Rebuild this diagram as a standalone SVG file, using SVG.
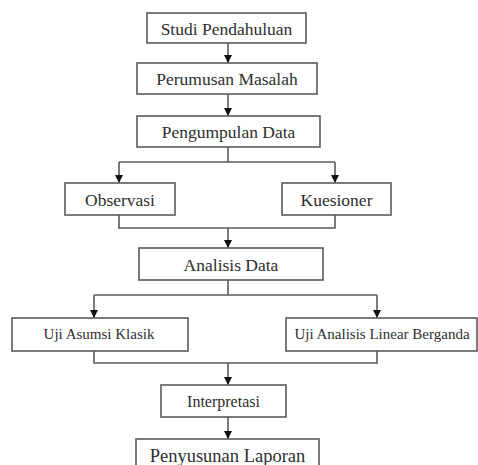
<svg xmlns="http://www.w3.org/2000/svg" width="478" height="465" viewBox="0 0 478 465">
<style>
.box{fill:#fff;stroke:#5a5a5a;stroke-width:1.6}
.lbl{font-family:"Liberation Serif","Times New Roman",serif;fill:#2e2e2e;text-anchor:middle;dominant-baseline:central}
.ln{fill:none;stroke:#5a5a5a;stroke-width:1.6}
</style>
<defs>
<marker id="ah" viewBox="0 0 8 8" refX="8" refY="4" markerWidth="8" markerHeight="8" markerUnits="userSpaceOnUse" orient="auto">
<path d="M0,0 L8,4 L0,8 Z" fill="#111"/>
</marker>
</defs>
<rect width="478" height="465" fill="#fff"/>
<g id="connectors">
<line class="ln" x1="228" y1="43" x2="228" y2="63" marker-end="url(#ah)"/>
<line class="ln" x1="228" y1="94" x2="228" y2="116" marker-end="url(#ah)"/>
<polyline class="ln" points="228,147 228,162"/>
<polyline class="ln" points="119,162 335,162"/>
<line class="ln" x1="119" y1="162" x2="119" y2="183" marker-end="url(#ah)"/>
<line class="ln" x1="335" y1="162" x2="335" y2="183" marker-end="url(#ah)"/>
<polyline class="ln" points="119,215 119,228 335,228 335,215"/>
<line class="ln" x1="228" y1="228" x2="228" y2="248" marker-end="url(#ah)"/>
<polyline class="ln" points="228,280 228,295"/>
<polyline class="ln" points="94,295 377,295"/>
<line class="ln" x1="94" y1="295" x2="94" y2="318" marker-end="url(#ah)"/>
<line class="ln" x1="377" y1="295" x2="377" y2="318" marker-end="url(#ah)"/>
<polyline class="ln" points="94,351 94,363 377,363 377,351"/>
<line class="ln" x1="228" y1="363" x2="228" y2="385" marker-end="url(#ah)"/>
<line class="ln" x1="228" y1="417" x2="228" y2="439" marker-end="url(#ah)"/>
</g>
<g id="studi">
<rect class="box" x="147" y="13" width="159" height="30"/>
<text class="lbl" x="226.5" y="28.5" font-size="17.5">Studi Pendahuluan</text>
</g>
<g id="perumusan">
<rect class="box" x="137" y="63" width="180" height="31"/>
<text class="lbl" x="227" y="79" font-size="17.5">Perumusan Masalah</text>
</g>
<g id="pengumpulan">
<rect class="box" x="137" y="116" width="183" height="31"/>
<text class="lbl" x="228.5" y="132" font-size="17.5">Pengumpulan Data</text>
</g>
<g id="observasi">
<rect class="box" x="65" y="183" width="110" height="32"/>
<text class="lbl" x="120" y="199.5" font-size="17.5">Observasi</text>
</g>
<g id="kuesioner">
<rect class="box" x="282" y="183" width="109" height="32"/>
<text class="lbl" x="336.5" y="199.5" font-size="17.5">Kuesioner</text>
</g>
<g id="analisis">
<rect class="box" x="139" y="248" width="184" height="32"/>
<text class="lbl" x="231" y="264.5" font-size="17.5">Analisis Data</text>
</g>
<g id="asumsi">
<rect class="box" x="12" y="318" width="176" height="33"/>
<text class="lbl" x="99" y="333.5" font-size="15">Uji Asumsi Klasik</text>
</g>
<g id="linear">
<rect class="box" x="286" y="318" width="191" height="33"/>
<text class="lbl" x="382" y="333.5" font-size="15">Uji Analisis Linear Berganda</text>
</g>
<g id="interpretasi">
<rect class="box" x="161" y="385" width="125" height="32"/>
<text class="lbl" x="223.5" y="401.5" font-size="16">Interpretasi</text>
</g>
<g id="penyusunan">
<rect class="box" x="136" y="439" width="183" height="40"/>
<text class="lbl" x="227.5" y="455.5" font-size="18.5">Penyusunan Laporan</text>
</g>
</svg>
